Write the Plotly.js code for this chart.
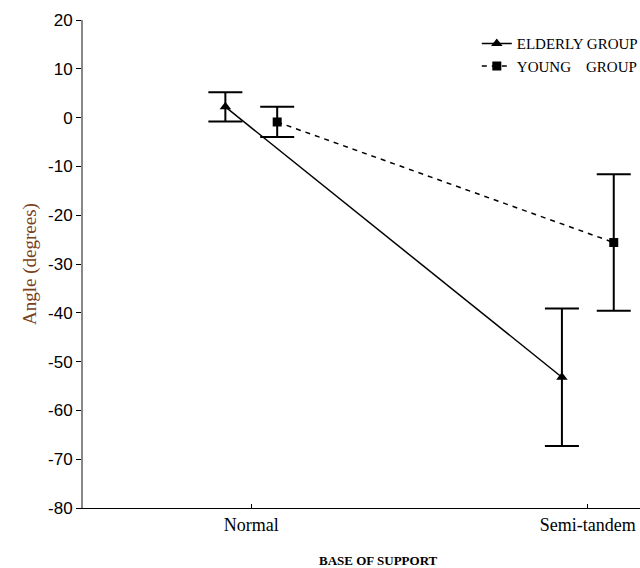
<!DOCTYPE html>
<html>
<head>
<meta charset="utf-8">
<script src="https://cdn.plot.ly/plotly-3.0.1.min.js"></script>
<style>html,body{margin:0;padding:0;background:#fff;}#chart{width:640px;height:568px;}</style>
</head>
<body>
<div id="chart"></div>
<script>
var categories = ["Normal", "Semi-tandem"];
var seriesNames = ["ELDERLY GROUP", "YOUNG\u00A0\u00A0\u00A0\u00A0GROUP"];
var elderlyMean = [2.2, -53.2];
var elderlyErr = [3.0, 14.1];
var youngMean = [-0.9, -25.6];
var youngErr = [3.1, 14.0];
var yTicks = [20, 10, 0, -10, -20, -30, -40, -50, -60, -70, -80];
var yTickText = ["20", "10", "0", "-10", "-20", "-30", "-40", "-50", "-60", "-70", "-80"];

var catPos = categories.map(function(c, i){ return i; });
var off = 0.077;

var traces = [
  {
    x: catPos.map(function(p){ return p - off; }),
    y: elderlyMean,
    name: seriesNames[0],
    type: 'scatter',
    mode: 'lines+markers',
    line: {color: '#000', width: 1.5, dash: 'solid'},
    marker: {symbol: 'triangle-up', size: 10, color: '#000'},
    error_y: {type: 'data', array: elderlyErr, visible: true, color: '#000', thickness: 2, width: 17}
  },
  {
    x: catPos.map(function(p){ return p + off; }),
    y: youngMean,
    name: seriesNames[1],
    type: 'scatter',
    mode: 'lines+markers',
    line: {color: '#000', width: 1.5, dash: '5px,5px'},
    marker: {symbol: 'square', size: 9, color: '#000'},
    error_y: {type: 'data', array: youngErr, visible: true, color: '#000', thickness: 2, width: 17}
  }
];

var layout = {
  width: 640, height: 568,
  margin: {l: 83, r: 0, t: 20, b: 60, pad: 0, autoexpand: false},
  paper_bgcolor: '#fff', plot_bgcolor: '#fff',
  showlegend: true,
  legend: {
    x: 0.707, y: 0.985, xanchor: 'left', yanchor: 'top',
    bgcolor: 'rgba(0,0,0,0)',
    font: {family: 'Liberation Serif, Times New Roman, serif', size: 15, color: '#000'},
    itemwidth: 30, tracegroupgap: 0
  },
  xaxis: {
    range: [-0.5, 1.155], automargin: false,
    tickmode: 'array', tickvals: catPos, ticktext: categories,
    ticks: 'inside', ticklen: 4, tickcolor: '#000',
    showline: true, linecolor: '#000', linewidth: 1,
    showgrid: false, zeroline: false,
    tickfont: {family: 'Liberation Serif, Times New Roman, serif', size: 18, color: '#000'},
    fixedrange: true
  },
  yaxis: {
    range: [-80, 20], automargin: false,
    tickmode: 'array', tickvals: yTicks, ticktext: yTickText,
    ticks: 'outside', ticklen: 5, tickcolor: '#000',
    showline: true, linecolor: '#888', linewidth: 2,
    showgrid: false, zeroline: false,
    tickfont: {family: 'Liberation Sans, Arial, sans-serif', size: 17, color: '#000'},
    title: {text: 'Angle (degrees)', standoff: 6,
      font: {family: 'Liberation Serif, Times New Roman, serif', size: 19, color: '#7B3F1A'}},
    fixedrange: true
  },
  annotations: [{
    text: '<b>BASE OF SUPPORT</b>',
    xref: 'paper', yref: 'paper', x: 0.53, y: 0, yshift: -52,
    xanchor: 'center', yanchor: 'middle', showarrow: false,
    font: {family: 'Liberation Serif, Times New Roman, serif', size: 13, color: '#000'}
  }]
};

Plotly.newPlot('chart', traces, layout, {displayModeBar: false, staticPlot: true});
</script>
</body>
</html>
